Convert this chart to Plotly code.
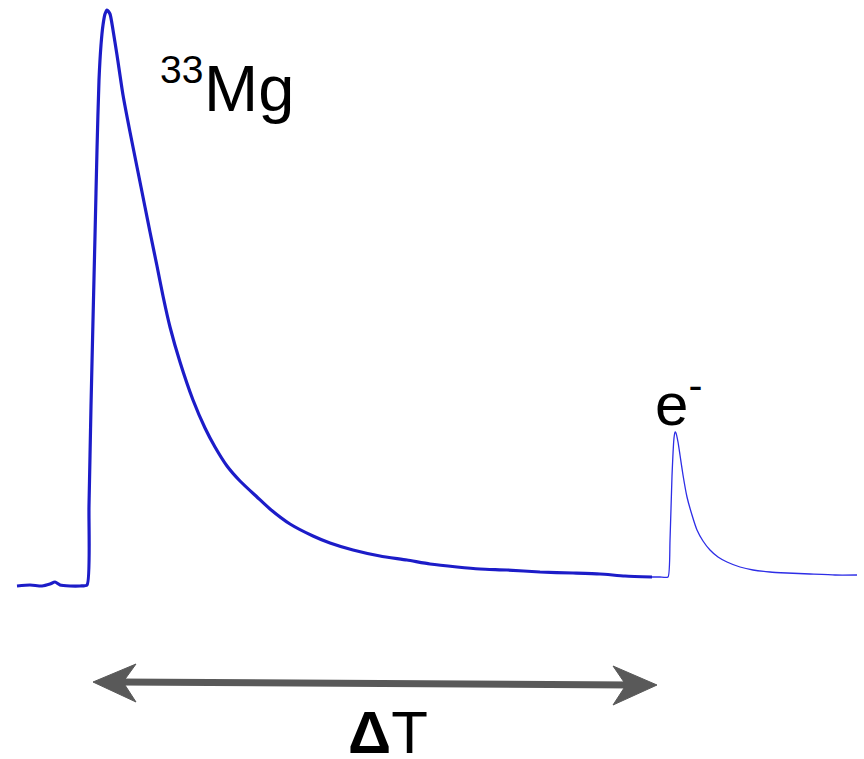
import plotly.graph_objects as go

# ---- data (time in arbitrary units, signal amplitude in arbitrary units) ----
mg_time = [17, 30, 42, 50, 55, 60, 70, 80, 87,
           89, 91, 93, 95, 97, 99, 101, 103, 105, 107, 110, 113, 117, 123,
           130, 137, 145, 150, 157, 163, 170, 180, 193, 205, 215, 227, 240, 257, 270,
           290, 313, 330, 353, 380, 407, 430, 457, 480, 507, 540, 573, 600, 625, 652]
mg_signal = [0, 1, 0, 2, 4, 1, 0, 0, 1,
             80, 180, 266, 350, 436, 506, 541, 561, 572, 576, 572, 556, 531, 491,
             454, 419, 379, 354, 320, 290, 259, 224, 186, 158, 139, 120, 105, 89, 77,
             62, 50, 43, 36, 30, 26, 22, 19, 17, 16, 14, 13, 12, 10, 9]

e_time = [652, 660, 668, 670, 672, 674, 675, 676, 678, 680, 683, 687, 692, 697, 703,
          710, 718, 727, 740, 753, 770, 787, 810, 835, 857]
e_signal = [9, 9, 9, 45, 110, 148, 154, 153, 144, 131, 111, 89, 71, 56, 45,
            36, 29, 24, 19, 16, 14, 13, 12, 11, 11]

mg_label = "33"
mg_label_main = "Mg"
e_label = "e<sup>-</sup>"
dt_label = "<b>Δ</b>T"
arrow_start = 93
arrow_end = 657

BASE = 586  # amplitude zero sits at this screen row


def row(px):
    return BASE - px


fig = go.Figure()
fig.add_trace(go.Scatter(x=mg_time, y=mg_signal, mode="lines",
                         line=dict(color="rgb(28,28,200)", width=3.2, shape="spline", smoothing=0.6),
                         hoverinfo="skip"))
fig.add_trace(go.Scatter(x=e_time, y=e_signal, mode="lines",
                         line=dict(color="rgb(45,45,230)", width=1.3, shape="spline", smoothing=0.5),
                         hoverinfo="skip"))

grey = "#595959"
shapes = [
    dict(type="line", x0=arrow_start + 25, x1=arrow_end - 25, y0=row(682), y1=row(685),
         line=dict(color=grey, width=7), layer="above"),
    dict(type="path",
         path=f"M {arrow_start},{row(682)} L {arrow_start+43},{row(664)} L {arrow_start+30},{row(682)} L {arrow_start+43},{row(702)} Z",
         fillcolor=grey, line=dict(color=grey, width=1)),
    dict(type="path",
         path=f"M {arrow_end},{row(685)} L {arrow_end-44},{row(666)} L {arrow_end-31},{row(685)} L {arrow_end-44},{row(705)} Z",
         fillcolor=grey, line=dict(color=grey, width=1)),
]

font = "Liberation Sans, Arial, Helvetica, sans-serif"
annotations = [
    dict(x=158, y=row(69), text=mg_label, showarrow=False, xanchor="left", yanchor="middle",
         font=dict(family=font, size=39, color="black")),
    dict(x=202, y=row(88), text=mg_label_main, showarrow=False, xanchor="left", yanchor="middle",
         font=dict(family=font, size=65, color="black")),
    dict(x=653, y=row(400), text=e_label, showarrow=False, xanchor="left", yanchor="middle",
         font=dict(family=font, size=60, color="black")),
    dict(x=388, y=row(732), text=dt_label, showarrow=False, xanchor="center", yanchor="middle",
         font=dict(family=font, size=60, color="black")),
]

fig.update_layout(
    width=864, height=759,
    margin=dict(l=0, r=0, t=0, b=0),
    paper_bgcolor="white", plot_bgcolor="white",
    showlegend=False,
    xaxis=dict(range=[0, 864], visible=False, fixedrange=True),
    yaxis=dict(range=[row(759), row(0)], visible=False, fixedrange=True),
    shapes=shapes,
    annotations=annotations,
)

fig.write_html("out.html")
